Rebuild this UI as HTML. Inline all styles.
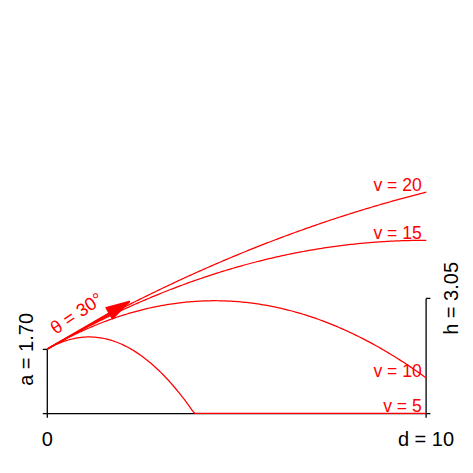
<!DOCTYPE html>
<html><head><meta charset="utf-8"><style>
html,body{margin:0;padding:0;background:#fff;}
svg{display:block}
text{font-family:"Liberation Sans",sans-serif;font-size:20px;}
.r text{font-size:17.6px;}
</style></head><body>
<svg width="473" height="473" viewBox="0 0 473 473">
<rect width="473" height="473" fill="#fff"/>
<g stroke="#000" stroke-width="1.3" fill="none">
<path d="M42.8,413.7 H430.4"/>
<path d="M47.3,349.4 V417.8"/>
<path d="M42.8,349.4 H47.3"/>
<path d="M426.1,298.4 V417.8"/>
<path d="M426.1,298.4 H430.4"/>
</g>
<polyline points="47.30,349.02 49.20,347.95 51.09,346.93 52.98,345.96 54.88,345.04 56.77,344.17 58.67,343.35 60.56,342.58 62.46,341.85 64.35,341.18 66.25,340.56 68.14,339.98 70.04,339.46 71.94,338.99 73.83,338.56 75.72,338.19 77.62,337.86 79.51,337.58 81.41,337.36 83.30,337.18 85.20,337.05 87.09,336.98 88.99,336.95 90.88,336.97 92.78,337.04 94.67,337.16 96.57,337.33 98.47,337.55 100.36,337.82 102.25,338.14 104.15,338.51 106.04,338.92 107.94,339.39 109.83,339.91 111.73,340.47 113.62,341.09 115.52,341.76 117.41,342.47 119.31,343.24 121.20,344.05 123.10,344.92 124.99,345.83 126.89,346.79 128.78,347.81 130.68,348.87 132.57,349.98 134.47,351.14 136.37,352.35 138.26,353.61 140.16,354.92 142.05,356.28 143.94,357.69 145.84,359.15 147.73,360.66 149.63,362.22 151.52,363.83 153.42,365.48 155.31,367.19 157.21,368.95 159.11,370.75 161.00,372.61 162.89,374.51 164.79,376.47 166.69,378.47 168.58,380.52 170.47,382.63 172.37,384.78 174.26,386.98 176.16,389.24 178.06,391.54 179.95,393.89 181.84,396.29 183.74,398.74 185.63,401.24 187.53,403.79 189.43,406.39 191.32,409.04 193.21,411.74 195.11,413.45 197.00,413.45 198.90,413.45 200.79,413.45 202.69,413.45 204.58,413.45 206.48,413.45 208.38,413.45 210.27,413.45 212.16,413.45 214.06,413.45 215.95,413.45 217.85,413.45 219.75,413.45 221.64,413.45 223.54,413.45 225.43,413.45 227.32,413.45 229.22,413.45 231.11,413.45 233.01,413.45 234.90,413.45 236.80,413.45 238.69,413.45 240.59,413.45 242.49,413.45 244.38,413.45 246.27,413.45 248.17,413.45 250.06,413.45 251.96,413.45 253.86,413.45 255.75,413.45 257.64,413.45 259.54,413.45 261.44,413.45 263.33,413.45 265.22,413.45 267.12,413.45 269.01,413.45 270.91,413.45 272.81,413.45 274.70,413.45 276.59,413.45 278.49,413.45 280.38,413.45 282.28,413.45 284.18,413.45 286.07,413.45 287.96,413.45 289.86,413.45 291.75,413.45 293.65,413.45 295.54,413.45 297.44,413.45 299.33,413.45 301.23,413.45 303.12,413.45 305.02,413.45 306.91,413.45 308.81,413.45 310.70,413.45 312.60,413.45 314.50,413.45 316.39,413.45 318.29,413.45 320.18,413.45 322.07,413.45 323.97,413.45 325.87,413.45 327.76,413.45 329.66,413.45 331.55,413.45 333.44,413.45 335.34,413.45 337.24,413.45 339.13,413.45 341.02,413.45 342.92,413.45 344.81,413.45 346.71,413.45 348.61,413.45 350.50,413.45 352.40,413.45 354.29,413.45 356.19,413.45 358.08,413.45 359.98,413.45 361.87,413.45 363.76,413.45 365.66,413.45 367.55,413.45 369.45,413.45 371.35,413.45 373.24,413.45 375.13,413.45 377.03,413.45 378.93,413.45 380.82,413.45 382.71,413.45 384.61,413.45 386.50,413.45 388.40,413.45 390.30,413.45 392.19,413.45 394.09,413.45 395.98,413.45 397.88,413.45 399.77,413.45 401.66,413.45 403.56,413.45 405.45,413.45 407.35,413.45 409.25,413.45 411.14,413.45 413.04,413.45 414.93,413.45 416.82,413.45 418.72,413.45 420.62,413.45 422.51,413.45 424.40,413.45 426.30,413.45" fill="none" stroke="#ff0000" stroke-width="1.25" stroke-linejoin="round"/>
<polyline points="47.30,349.02 49.20,347.93 51.09,346.86 52.98,345.79 54.88,344.74 56.77,343.70 58.67,342.68 60.56,341.67 62.46,340.66 64.35,339.68 66.25,338.70 68.14,337.73 70.04,336.78 71.94,335.84 73.83,334.92 75.72,334.00 77.62,333.10 79.51,332.21 81.41,331.33 83.30,330.47 85.20,329.62 87.09,328.78 88.99,327.95 90.88,327.13 92.78,326.33 94.67,325.54 96.57,324.76 98.47,324.00 100.36,323.24 102.25,322.50 104.15,321.77 106.04,321.06 107.94,320.35 109.83,319.66 111.73,318.98 113.62,318.32 115.52,317.66 117.41,317.02 119.31,316.39 121.20,315.78 123.10,315.17 124.99,314.58 126.89,314.00 128.78,313.43 130.68,312.88 132.57,312.33 134.47,311.80 136.37,311.29 138.26,310.78 140.16,310.29 142.05,309.81 143.94,309.34 145.84,308.88 147.73,308.44 149.63,308.01 151.52,307.59 153.42,307.18 155.31,306.79 157.21,306.41 159.11,306.04 161.00,305.68 162.89,305.34 164.79,305.01 166.69,304.69 168.58,304.38 170.47,304.09 172.37,303.80 174.26,303.53 176.16,303.28 178.06,303.03 179.95,302.80 181.84,302.58 183.74,302.37 185.63,302.17 187.53,301.99 189.43,301.82 191.32,301.66 193.21,301.52 195.11,301.38 197.00,301.26 198.90,301.15 200.79,301.06 202.69,300.97 204.58,300.90 206.48,300.84 208.38,300.79 210.27,300.76 212.16,300.74 214.06,300.73 215.95,300.73 217.85,300.75 219.75,300.77 221.64,300.81 223.54,300.87 225.43,300.93 227.32,301.01 229.22,301.10 231.11,301.20 233.01,301.31 234.90,301.44 236.80,301.58 238.69,301.73 240.59,301.89 242.49,302.07 244.38,302.26 246.27,302.46 248.17,302.67 250.06,302.90 251.96,303.14 253.86,303.39 255.75,303.65 257.64,303.93 259.54,304.21 261.44,304.51 263.33,304.83 265.22,305.15 267.12,305.49 269.01,305.84 270.91,306.20 272.81,306.58 274.70,306.96 276.59,307.36 278.49,307.77 280.38,308.20 282.28,308.63 284.18,309.08 286.07,309.54 287.96,310.02 289.86,310.50 291.75,311.00 293.65,311.51 295.54,312.04 297.44,312.57 299.33,313.12 301.23,313.68 303.12,314.25 305.02,314.84 306.91,315.44 308.81,316.05 310.70,316.67 312.60,317.30 314.50,317.95 316.39,318.61 318.29,319.28 320.18,319.97 322.07,320.66 323.97,321.37 325.87,322.09 327.76,322.83 329.66,323.57 331.55,324.33 333.44,325.10 335.34,325.89 337.24,326.68 339.13,327.49 341.02,328.31 342.92,329.15 344.81,329.99 346.71,330.85 348.61,331.72 350.50,332.60 352.40,333.50 354.29,334.40 356.19,335.32 358.08,336.26 359.98,337.20 361.87,338.16 363.76,339.13 365.66,340.11 367.55,341.10 369.45,342.11 371.35,343.13 373.24,344.16 375.13,345.20 377.03,346.26 378.93,347.33 380.82,348.41 382.71,349.50 384.61,350.61 386.50,351.73 388.40,352.86 390.30,354.00 392.19,355.16 394.09,356.32 395.98,357.50 397.88,358.70 399.77,359.90 401.66,361.12 403.56,362.35 405.45,363.59 407.35,364.84 409.25,366.11 411.14,367.39 413.04,368.68 414.93,369.99 416.82,371.30 418.72,372.63 420.62,373.97 422.51,375.33 424.40,376.69 426.30,378.07" fill="none" stroke="#ff0000" stroke-width="1.25" stroke-linejoin="round"/>
<polyline points="47.30,349.02 49.20,347.93 51.09,346.84 52.98,345.76 54.88,344.69 56.77,343.62 58.67,342.55 60.56,341.50 62.46,340.44 64.35,339.40 66.25,338.35 68.14,337.32 70.04,336.29 71.94,335.26 73.83,334.24 75.72,333.23 77.62,332.22 79.51,331.22 81.41,330.22 83.30,329.23 85.20,328.24 87.09,327.26 88.99,326.28 90.88,325.31 92.78,324.35 94.67,323.39 96.57,322.44 98.47,321.49 100.36,320.54 102.25,319.61 104.15,318.68 106.04,317.75 107.94,316.83 109.83,315.91 111.73,315.01 113.62,314.10 115.52,313.20 117.41,312.31 119.31,311.42 121.20,310.54 123.10,309.66 124.99,308.79 126.89,307.93 128.78,307.07 130.68,306.21 132.57,305.36 134.47,304.52 136.37,303.68 138.26,302.85 140.16,302.02 142.05,301.20 143.94,300.39 145.84,299.57 147.73,298.77 149.63,297.97 151.52,297.18 153.42,296.39 155.31,295.61 157.21,294.83 159.11,294.06 161.00,293.29 162.89,292.53 164.79,291.77 166.69,291.02 168.58,290.28 170.47,289.54 172.37,288.81 174.26,288.08 176.16,287.36 178.06,286.64 179.95,285.93 181.84,285.22 183.74,284.52 185.63,283.83 187.53,283.14 189.43,282.46 191.32,281.78 193.21,281.10 195.11,280.44 197.00,279.78 198.90,279.12 200.79,278.47 202.69,277.82 204.58,277.18 206.48,276.55 208.38,275.92 210.27,275.30 212.16,274.68 214.06,274.07 215.95,273.46 217.85,272.86 219.75,272.27 221.64,271.68 223.54,271.09 225.43,270.51 227.32,269.94 229.22,269.37 231.11,268.81 233.01,268.25 234.90,267.70 236.80,267.15 238.69,266.61 240.59,266.08 242.49,265.55 244.38,265.02 246.27,264.51 248.17,263.99 250.06,263.48 251.96,262.98 253.86,262.49 255.75,262.00 257.64,261.51 259.54,261.03 261.44,260.56 263.33,260.09 265.22,259.62 267.12,259.17 269.01,258.71 270.91,258.27 272.81,257.82 274.70,257.39 276.59,256.96 278.49,256.53 280.38,256.11 282.28,255.70 284.18,255.29 286.07,254.89 287.96,254.49 289.86,254.10 291.75,253.71 293.65,253.33 295.54,252.96 297.44,252.59 299.33,252.22 301.23,251.87 303.12,251.51 305.02,251.16 306.91,250.82 308.81,250.49 310.70,250.15 312.60,249.83 314.50,249.51 316.39,249.19 318.29,248.88 320.18,248.58 322.07,248.28 323.97,247.99 325.87,247.70 327.76,247.42 329.66,247.15 331.55,246.87 333.44,246.61 335.34,246.35 337.24,246.10 339.13,245.85 341.02,245.60 342.92,245.37 344.81,245.13 346.71,244.91 348.61,244.69 350.50,244.47 352.40,244.26 354.29,244.06 356.19,243.86 358.08,243.66 359.98,243.48 361.87,243.29 363.76,243.12 365.66,242.95 367.55,242.78 369.45,242.62 371.35,242.46 373.24,242.31 375.13,242.17 377.03,242.03 378.93,241.90 380.82,241.77 382.71,241.65 384.61,241.53 386.50,241.42 388.40,241.32 390.30,241.22 392.19,241.12 394.09,241.03 395.98,240.95 397.88,240.87 399.77,240.80 401.66,240.73 403.56,240.67 405.45,240.62 407.35,240.57 409.25,240.52 411.14,240.48 413.04,240.45 414.93,240.42 416.82,240.40 418.72,240.38 420.62,240.37 422.51,240.36 424.40,240.36 426.30,240.37" fill="none" stroke="#ff0000" stroke-width="1.25" stroke-linejoin="round"/>
<polyline points="47.30,349.02 49.20,347.93 51.09,346.84 52.98,345.75 54.88,344.67 56.77,343.59 58.67,342.51 60.56,341.44 62.46,340.37 64.35,339.30 66.25,338.23 68.14,337.17 70.04,336.11 71.94,335.06 73.83,334.01 75.72,332.96 77.62,331.91 79.51,330.87 81.41,329.83 83.30,328.79 85.20,327.76 87.09,326.73 88.99,325.70 90.88,324.68 92.78,323.65 94.67,322.64 96.57,321.62 98.47,320.61 100.36,319.60 102.25,318.59 104.15,317.59 106.04,316.59 107.94,315.60 109.83,314.60 111.73,313.61 113.62,312.62 115.52,311.64 117.41,310.66 119.31,309.68 121.20,308.71 123.10,307.74 124.99,306.77 126.89,305.80 128.78,304.84 130.68,303.88 132.57,302.92 134.47,301.97 136.37,301.02 138.26,300.07 140.16,299.13 142.05,298.19 143.94,297.25 145.84,296.32 147.73,295.39 149.63,294.46 151.52,293.53 153.42,292.61 155.31,291.69 157.21,290.77 159.11,289.86 161.00,288.95 162.89,288.05 164.79,287.14 166.69,286.24 168.58,285.34 170.47,284.45 172.37,283.56 174.26,282.67 176.16,281.79 178.06,280.90 179.95,280.03 181.84,279.15 183.74,278.28 185.63,277.41 187.53,276.54 189.43,275.68 191.32,274.82 193.21,273.96 195.11,273.11 197.00,272.26 198.90,271.41 200.79,270.56 202.69,269.72 204.58,268.88 206.48,268.05 208.38,267.22 210.27,266.39 212.16,265.56 214.06,264.74 215.95,263.92 217.85,263.10 219.75,262.29 221.64,261.48 223.54,260.67 225.43,259.86 227.32,259.06 229.22,258.27 231.11,257.47 233.01,256.68 234.90,255.89 236.80,255.10 238.69,254.32 240.59,253.54 242.49,252.76 244.38,251.99 246.27,251.22 248.17,250.45 250.06,249.69 251.96,248.93 253.86,248.17 255.75,247.42 257.64,246.66 259.54,245.92 261.44,245.17 263.33,244.43 265.22,243.69 267.12,242.95 269.01,242.22 270.91,241.49 272.81,240.76 274.70,240.04 276.59,239.32 278.49,238.60 280.38,237.89 282.28,237.17 284.18,236.47 286.07,235.76 287.96,235.06 289.86,234.36 291.75,233.66 293.65,232.97 295.54,232.28 297.44,231.59 299.33,230.91 301.23,230.23 303.12,229.55 305.02,228.88 306.91,228.21 308.81,227.54 310.70,226.87 312.60,226.21 314.50,225.55 316.39,224.90 318.29,224.25 320.18,223.60 322.07,222.95 323.97,222.31 325.87,221.67 327.76,221.03 329.66,220.40 331.55,219.76 333.44,219.14 335.34,218.51 337.24,217.89 339.13,217.27 341.02,216.66 342.92,216.04 344.81,215.43 346.71,214.83 348.61,214.23 350.50,213.63 352.40,213.03 354.29,212.44 356.19,211.84 358.08,211.26 359.98,210.67 361.87,210.09 363.76,209.51 365.66,208.94 367.55,208.37 369.45,207.80 371.35,207.23 373.24,206.67 375.13,206.11 377.03,205.55 378.93,205.00 380.82,204.45 382.71,203.90 384.61,203.36 386.50,202.82 388.40,202.28 390.30,201.74 392.19,201.21 394.09,200.68 395.98,200.16 397.88,199.64 399.77,199.12 401.66,198.60 403.56,198.09 405.45,197.58 407.35,197.07 409.25,196.57 411.14,196.07 413.04,195.57 414.93,195.07 416.82,194.58 418.72,194.09 420.62,193.61 422.51,193.13 424.40,192.65 426.30,192.17" fill="none" stroke="#ff0000" stroke-width="1.25" stroke-linejoin="round"/>
<g stroke="#ff0000" fill="#ff0000">
<path d="M47.30,349.02 L129.40,301.62" stroke-width="1.9"/>
<path d="M129.40,301.62 L106.22,307.83 L112.43,318.59 Z" stroke-width="1.6" stroke-linejoin="round"/>
</g>
<text x="47.3" y="445.6" text-anchor="middle">0</text>
<text x="426" y="445.6" text-anchor="middle">d = 10</text>
<text transform="translate(32.6,349.4) rotate(-90)" text-anchor="middle">a = 1.70</text>
<text transform="translate(457.6,298.4) rotate(-90)" text-anchor="middle">h = 3.05</text>
<g fill="#ff0000" class="r">
<text x="421.8" y="191.1" text-anchor="end">v = 20</text>
<text x="421.8" y="238.6" text-anchor="end">v = 15</text>
<text x="421.8" y="377.0" text-anchor="end">v = 10</text>
<text x="421.8" y="412.2" text-anchor="end">v = 5</text>
<text transform="translate(80,318.6) rotate(-34)" text-anchor="middle" style="font-size:18.3px">θ = 30°</text>
</g>
</svg>
</body></html>
